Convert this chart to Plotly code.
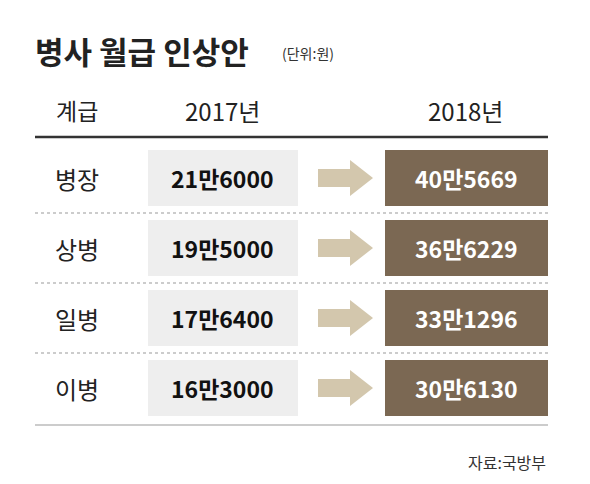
import plotly.graph_objects as go

ranks = ["병장", "상병", "일병", "이병"]
pay_2017 = ["21만6000", "19만5000", "17만6400", "16만3000"]
pay_2018 = ["40만5669", "36만6229", "33만1296", "30만6130"]
col_headers = ["계급", "2017년", "2018년"]

FONT = "Noto Sans CJK KR"
fig = go.Figure()
shapes = []
ann = []

def text(x, y, s, size, color="#222", bold=False, anchor="center"):
    if bold:
        s = f"<b>{s}</b>"
    ann.append(dict(x=x, y=y, text=s, showarrow=False, xanchor=anchor, yanchor="middle",
                    font=dict(family=FONT, size=size, color=color)))

text(33, 50, "병사 월급 인상안", 31, "#222", True, "left")
text(280, 53, "(단위:원)", 14, "#333", False, "left")
text(77, 110, col_headers[0], 23)
text(222, 110, col_headers[1], 24)
text(465, 110, col_headers[2], 24)
shapes.append(dict(type="line", x0=35, x1=548, y0=137, y1=137, line=dict(color="#333", width=2.5)))

row_h = 70
y0 = 178
for i, (r, a, b) in enumerate(zip(ranks, pay_2017, pay_2018)):
    yc = y0 + i * row_h
    text(77, yc, r, 24)
    shapes.append(dict(type="rect", x0=148, x1=298, y0=yc - 28, y1=yc + 28,
                       fillcolor="#eeeeee", line=dict(width=0), layer="below"))
    text(222, yc, a, 23, "#111", True)
    shapes.append(dict(type="path",
                       path=f"M318,{yc-9} L350,{yc-9} L350,{yc-18} L373,{yc} L350,{yc+18} L350,{yc+9} L318,{yc+9} Z",
                       fillcolor="#d3c7ad", line=dict(width=0)))
    shapes.append(dict(type="rect", x0=385, x1=548, y0=yc - 28, y1=yc + 28,
                       fillcolor="#7b6853", line=dict(width=0), layer="below"))
    text(466, yc, b, 23, "white", True)
    if i < len(ranks) - 1:
        shapes.append(dict(type="line", x0=35, x1=548, y0=yc + 35, y1=yc + 35,
                           line=dict(color="#999", width=1, dash="dot")))
shapes.append(dict(type="line", x0=35, x1=548, y0=425, y1=425, line=dict(color="#999", width=1)))
text(548, 462, "자료:국방부", 16, "#333", False, "right")

fig.update_layout(
    width=590, height=484, margin=dict(l=0, r=0, t=0, b=0),
    paper_bgcolor="white", plot_bgcolor="white",
    xaxis=dict(range=[8, 598], visible=False, fixedrange=True),
    yaxis=dict(range=[492, 8], visible=False, fixedrange=True),
    shapes=shapes, annotations=ann, showlegend=False,
)
fig.write_html("out.html")
